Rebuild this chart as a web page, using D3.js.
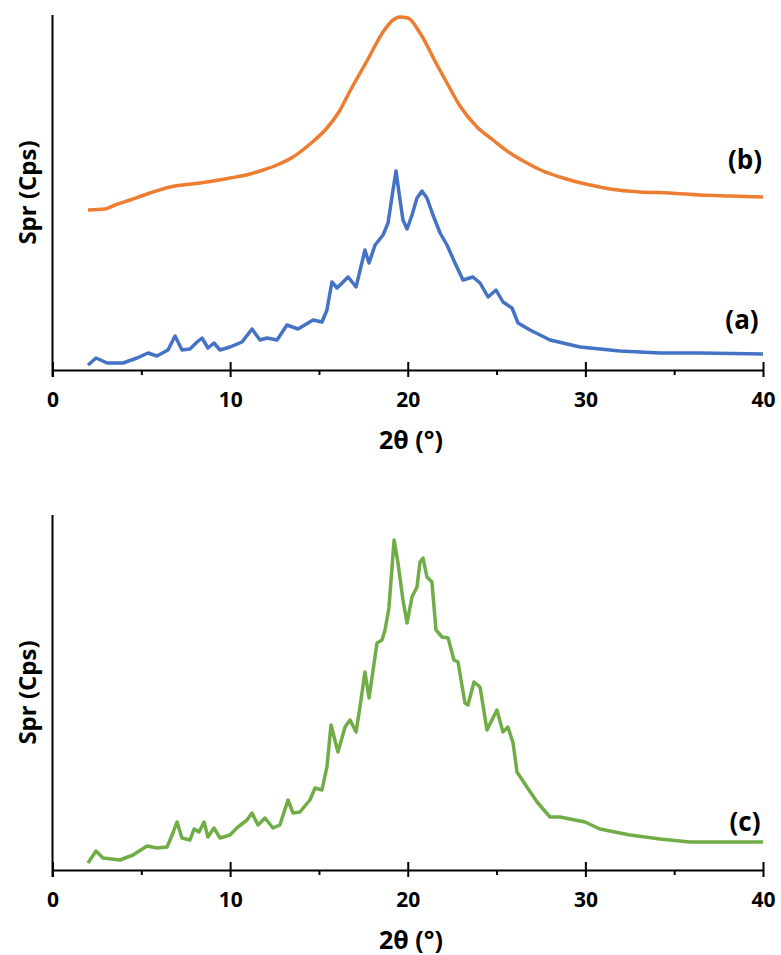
<!DOCTYPE html>
<html>
<head>
<meta charset="utf-8">
<script src="https://cdn.jsdelivr.net/npm/d3@7"></script>
<style>
  body { margin: 0; background: #fff; }
  text { font-family: "Open Sans", "Liberation Sans", sans-serif; font-weight: bold; fill: #000; }
</style>
</head>
<body>
<div id="chart"></div>
<script>
// 2θ (deg) and intensity (arbitrary counts)
let seriesB = [[2.00,160],[2.96,161],[3.52,165],[4.36,170],[5.49,177],[6.62,183],[8.30,187],[10.0,192],[11.12,196],[11.68,199],[12.64,205],[13.54,213],[14.50,226],[15.45,242],[16.19,260],[16.75,279],[17.70,309],[18.61,338],[19.17,350],[19.56,353],[20.01,352],[20.69,337],[21.65,305],[22.27,285],[22.94,264],[23.90,243],[24.80,230],[25.76,217],[26.71,207],[27.61,199],[28.57,193],[29.53,188],[30.26,185],[31.39,181],[33.07,178],[34.76,177],[36.45,175],[38.14,174],[40,173]];

let seriesA = [[2.00,5],[2.45,12],[3.07,7],[3.97,7],[4.76,12],[5.38,17],[5.88,14],[6.50,20],[6.90,34],[7.29,20],[7.74,21],[8.14,28],[8.42,32],[8.75,22],[9.09,27],[9.43,20],[9.99,23],[10.67,28],[11.23,41],[11.68,30],[12.08,32],[12.64,30],[13.20,45],[13.82,41],[14.67,50],[15.17,48],[15.45,60],[15.73,88],[16.02,82],[16.36,88],[16.64,93],[17.09,83],[17.59,120],[17.82,107],[18.16,125],[18.61,135],[18.89,147],[19.17,180],[19.34,199],[19.51,177],[19.73,150],[19.96,141],[20.24,155],[20.52,172],[20.80,179],[21.08,172],[21.42,155],[21.82,137],[22.21,125],[22.66,107],[23.11,90],[23.67,93],[24.07,87],[24.52,73],[24.97,80],[25.36,68],[25.87,62],[26.21,47],[26.88,40],[27.45,35],[28.01,30],[29.70,23],[31.95,19],[34.20,17],[36.45,17],[40,16]];

let seriesC = [[2.00,7],[2.45,19],[2.84,12],[3.80,10],[4.53,15],[5.32,24],[5.88,22],[6.45,23],[6.78,37],[7.01,48],[7.29,32],[7.74,30],[7.97,41],[8.25,38],[8.53,48],[8.75,33],[9.09,42],[9.43,32],[9.99,35],[10.44,43],[10.95,50],[11.23,57],[11.57,45],[11.96,52],[12.41,42],[12.80,45],[13.26,70],[13.54,57],[13.93,58],[14.49,70],[14.78,82],[15.17,80],[15.45,103],[15.68,145],[16.07,118],[16.47,143],[16.75,150],[17.09,138],[17.31,163],[17.59,198],[17.82,172],[18.27,227],[18.55,230],[18.72,240],[18.94,262],[19.23,330],[19.45,307],[19.73,270],[19.96,247],[20.24,273],[20.52,283],[20.69,308],[20.86,312],[21.08,293],[21.36,288],[21.59,240],[21.93,233],[22.27,232],[22.60,210],[22.83,208],[23.22,167],[23.39,165],[23.73,188],[24.07,183],[24.46,140],[25.02,160],[25.36,138],[25.64,143],[25.93,127],[26.15,98],[26.71,83],[27.28,68],[28.01,53],[28.57,53],[29.42,50],[29.98,48],[30.82,41],[32.51,35],[34.20,31],[35.89,28],[37.58,28],[40,28]];

let majorTicks = [0, 10, 20, 30, 40];
let minorTicks = [5, 15, 25, 35];
let xLabel = "2θ (°)";
let yLabel = "Spr (Cps)";

let width = 781, height = 955;
let svg = d3.select("#chart").append("svg")
    .attr("width", width)
    .attr("height", height);

let x = d3.scaleLinear().domain([0, 40]).range([52.5, 763]);

function panel(top, bottom, series, labels) {
  let y = d3.scaleLinear().domain([0, 355]).range([bottom, top]);
  let g = svg.append("g");

  // y axis line only, no ticks
  g.append("line")
    .attr("x1", x(0)).attr("x2", x(0))
    .attr("y1", top).attr("y2", bottom + 7)
    .attr("stroke", "#000").attr("stroke-width", 2);

  series.forEach(s => {
    let line = d3.line()
      .x(d => x(d[0]))
      .y(d => y(d[1]))
      .curve(s.smooth ? d3.curveMonotoneX : d3.curveLinear);
    g.append("path")
      .datum(s.data)
      .attr("d", line)
      .attr("fill", "none")
      .attr("stroke", s.color)
      .attr("stroke-width", 3.5)
      .attr("stroke-linejoin", "round");
  });

  let xAxis = g.append("g")
    .attr("transform", "translate(0," + bottom + ")")
    .call(d3.axisBottom(x).tickValues(majorTicks).tickSize(7).tickSizeOuter(0).tickPadding(12));
  xAxis.select(".domain").attr("stroke-width", 2);
  xAxis.selectAll(".tick line").attr("y1", -8).attr("y2", 7).attr("stroke-width", 2);
  xAxis.selectAll(".tick text")
    .attr("y", 30).attr("dy", "0.35em")
    .style("font-size", "21px")
    .style("font-family", "'Open Sans', sans-serif")
    .style("font-weight", "bold");

  let minor = g.append("g")
    .attr("transform", "translate(0," + bottom + ")")
    .call(d3.axisBottom(x).tickValues(minorTicks).tickSize(5).tickFormat(""));
  minor.select(".domain").remove();
  minor.selectAll(".tick line").attr("stroke-width", 2);

  g.append("text")
    .attr("x", 411).attr("y", bottom + 70)
    .attr("dy", "0.35em")
    .attr("text-anchor", "middle")
    .style("font-size", "25px")
    .text(xLabel);

  g.append("text")
    .attr("transform", "translate(28," + ((top + bottom) / 2) + ") rotate(-90)")
    .attr("dy", "0.35em")
    .attr("text-anchor", "middle")
    .style("font-size", "24px")
    .text(yLabel);

  labels.forEach(l => {
    g.append("text")
      .attr("x", l.x).attr("y", l.y)
      .attr("dy", "0.35em")
      .attr("text-anchor", "middle")
      .style("font-size", "26px")
      .text(l.text);
  });
}

panel(15, 370,
  [{data: seriesB, color: "#ED7D31", smooth: true}, {data: seriesA, color: "#4472C4"}],
  [{text: "(b)", x: 745, y: 160}, {text: "(a)", x: 742, y: 320}]);

panel(515, 870,
  [{data: seriesC, color: "#70AD47"}],
  [{text: "(c)", x: 745, y: 822}]);
</script>
</body>
</html>
